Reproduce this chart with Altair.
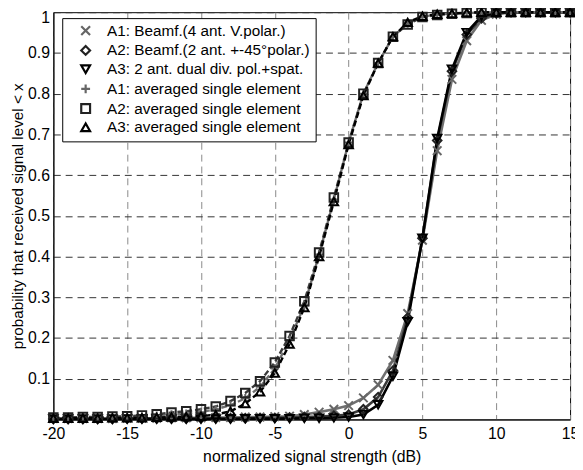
import altair as alt
import pandas as pd

x_db = list(range(-20, 16))

series_names = [
    "A1: Beamf.(4 ant. V.polar.)",
    "A2: Beamf.(2 ant. +-45°polar.)",
    "A3: 2 ant. dual div. pol.+spat.",
    "A1: averaged single element",
    "A2: averaged single element",
    "A3: averaged single element",
]

# Beamforming curves (solid)
a1_beamf = [0.002, 0.002, 0.002, 0.002, 0.002, 0.003, 0.003, 0.003, 0.004, 0.004,
            0.004, 0.005, 0.005, 0.006, 0.006, 0.007, 0.008, 0.012, 0.018, 0.025,
            0.034, 0.053, 0.085, 0.145, 0.26, 0.44, 0.66, 0.835, 0.93, 0.98,
            0.995, 1.0, 1.0, 1.0, 1.0, 1.0]
a2_beamf = [0.001, 0.001, 0.001, 0.001, 0.001, 0.002, 0.002, 0.002, 0.002, 0.002,
            0.003, 0.003, 0.003, 0.003, 0.004, 0.004, 0.005, 0.006, 0.007, 0.009,
            0.012, 0.025, 0.055, 0.12, 0.25, 0.445, 0.685, 0.855, 0.945, 0.985,
            0.997, 1.0, 1.0, 1.0, 1.0, 1.0]
a3_beamf = [0.001, 0.001, 0.001, 0.001, 0.001, 0.001, 0.001, 0.001, 0.001, 0.001,
            0.001, 0.001, 0.001, 0.002, 0.002, 0.002, 0.002, 0.003, 0.003, 0.004,
            0.006, 0.012, 0.036, 0.106, 0.24, 0.445, 0.69, 0.86, 0.95, 0.99,
            0.998, 1.0, 1.0, 1.0, 1.0, 1.0]
# Averaged single element curves (dashed)
a1_avg = [0.004, 0.004, 0.005, 0.005, 0.006, 0.006, 0.007, 0.009, 0.012, 0.014,
          0.018, 0.025, 0.035, 0.052, 0.08, 0.125, 0.195, 0.28, 0.405, 0.54,
          0.68, 0.80, 0.875, 0.94, 0.972, 0.989, 0.994, 0.997, 0.998, 0.999,
          1.0, 1.0, 1.0, 1.0, 1.0, 1.0]
a2_avg = [0.005, 0.005, 0.006, 0.006, 0.007, 0.008, 0.010, 0.013, 0.017, 0.020,
          0.025, 0.032, 0.045, 0.065, 0.094, 0.14, 0.205, 0.29, 0.41, 0.545,
          0.68, 0.80, 0.875, 0.94, 0.97, 0.988, 0.993, 0.996, 0.998, 0.999,
          1.0, 1.0, 1.0, 1.0, 1.0, 1.0]
a3_avg = [0.003, 0.003, 0.003, 0.003, 0.004, 0.004, 0.004, 0.005, 0.006, 0.007,
          0.008, 0.012, 0.02, 0.039, 0.068, 0.114, 0.185, 0.275, 0.40, 0.535,
          0.675, 0.795, 0.875, 0.94, 0.975, 0.99, 0.995, 0.997, 0.999, 1.0,
          1.0, 1.0, 1.0, 1.0, 1.0, 1.0]

all_values = [a1_beamf, a2_beamf, a3_beamf, a1_avg, a2_avg, a3_avg]
kinds = ["beamf", "beamf", "beamf", "avg", "avg", "avg"]
line_colors = ["#707070", "#3a3a3a", "#000000", "#707070", "#3a3a3a", "#000000"]
marker_colors = ["#666666", "#222222", "#000000", "#666666", "#222222", "#000000"]
shapes = [
    "M-1,-1L1,1M-1,1L1,-1",
    "diamond",
    "triangle-down",
    "M-1,0L1,0M0,-1L0,1",
    "square",
    "triangle-up",
]

rows = []
for i, (name, vals) in enumerate(zip(series_names, all_values)):
    for xv, yv in zip(x_db, vals):
        rows.append({"x": xv, "p": yv, "series": name, "order": i,
                     "kind": kinds[i], "lc": line_colors[i]})
df = pd.DataFrame(rows)

FONT = "Liberation Sans"

xenc = alt.X("x:Q", scale=alt.Scale(domain=[-20, 15], nice=False),
             axis=alt.Axis(values=list(range(-20, 16, 5)), labelExpr="'' + datum.value",
                           labelFlush=False,
                           title="normalized signal strength (dB)",
                           grid=True, gridDash=[7, 5], gridColor="#888888", gridOpacity=1,
                           ticks=False, labelPadding=6, titlePadding=8,
                           domainColor="#000000", labelColor="#000000", titleColor="#000000"))
yenc = alt.Y("p:Q", scale=alt.Scale(domain=[0, 1], nice=False),
             axis=alt.Axis(values=[0.1, 0.2, 0.3, 0.4, 0.5, 0.6, 0.7, 0.8, 0.9, 1],
                           labelExpr="'' + datum.value", labelFlush=False,
                           labelOffset=alt.ExprRef("datum.value == 1 ? 5 : 0"),
                           title="probability that received signal level < x",
                           titleFontSize=15.5,
                           grid=True, gridDash=[7, 5], gridColor="#333333", gridOpacity=1,
                           ticks=False, labelPadding=4, titlePadding=2,
                           domainColor="#000000", labelColor="#000000", titleColor="#000000"))

base = alt.Chart(df)

lines_solid = base.transform_filter("datum.kind == 'beamf'").mark_line(
    strokeWidth=2.6).encode(
    x=xenc, y=yenc,
    color=alt.Color("lc:N", scale=None),
    detail="series:N",
    order="x:Q",
)
lines_dash = base.transform_filter("datum.kind == 'avg'").mark_line(
    strokeWidth=2.4, strokeDash=[6, 3]).encode(
    x=xenc, y=yenc,
    color=alt.Color("lc:N", scale=None),
    detail="series:N",
    order="x:Q",
)

leg = alt.Legend(title=None, orient="none", legendX=9, legendY=6,
                 symbolOffset=11, labelOffset=14, padding=5, rowPadding=1,
                 labelFont=FONT, labelFontSize=15.5, labelLimit=500)

points = base.mark_point(filled=False, strokeWidth=2, size=75, opacity=1).encode(
    x=xenc, y=yenc,
    color=alt.Color("series:N", scale=alt.Scale(domain=series_names, range=marker_colors),
                    legend=leg),
    shape=alt.Shape("series:N", scale=alt.Scale(domain=series_names, range=shapes),
                    legend=leg),
)

chart = alt.layer(lines_solid, lines_dash, points).properties(
    width=524, height=413,
    autosize=alt.AutoSizeParams(type="none"),
    padding={"left": 46, "top": 1, "right": 5, "bottom": 48},
).configure_view(
    stroke="#000000", strokeWidth=1,
).configure_axis(
    labelFont=FONT, titleFont=FONT,
    labelFontSize=16, titleFontSize=16, titleFontWeight="normal",
).configure_legend(
    fillColor="#ffffff", strokeColor="#000000",
    labelFont=FONT, labelColor="#000000",
    symbolSize=80, symbolStrokeWidth=2.2, cornerRadius=0,
)

chart.save("out.html", embed_options={"renderer": "svg", "actions": False})
